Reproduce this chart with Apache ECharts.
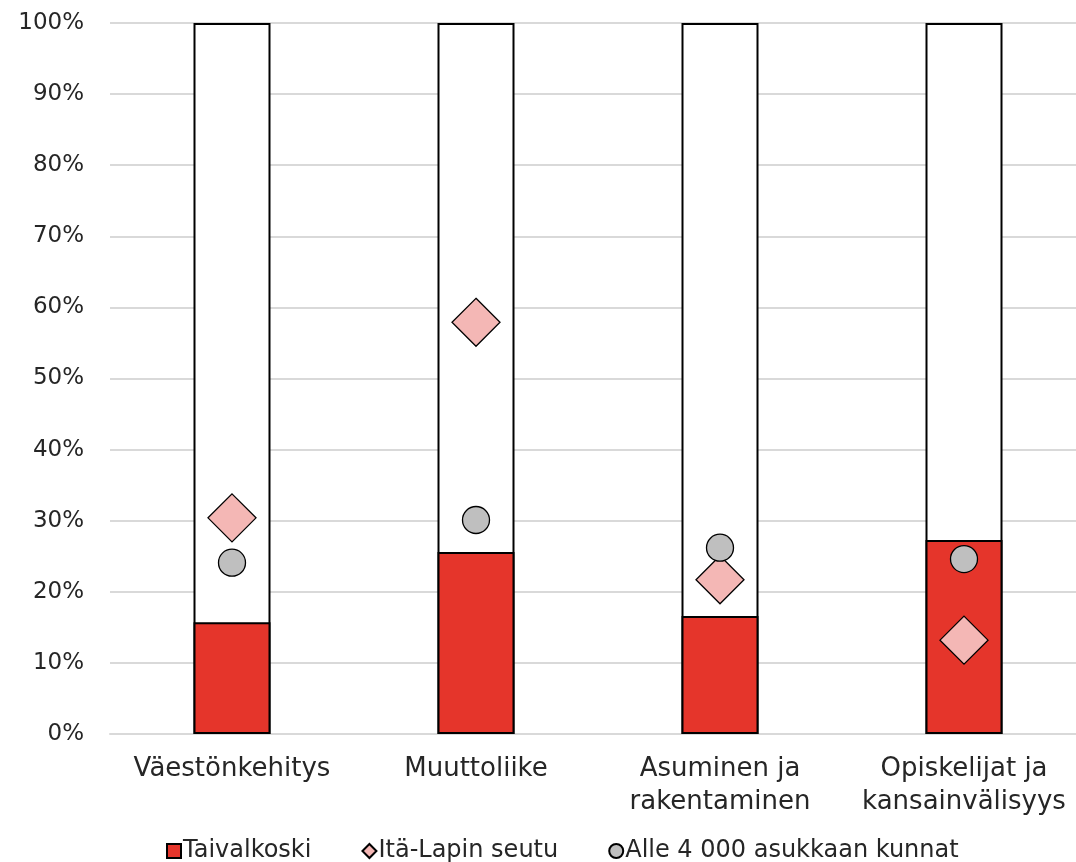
<!DOCTYPE html>
<html>
<head>
<meta charset="utf-8">
<script src="https://cdn.jsdelivr.net/npm/echarts@6/dist/echarts.min.js"></script>
<style>
  html, body { margin: 0; padding: 0; background: #fff; }
  #chart { width: 1076px; height: 862px; }
</style>
</head>
<body>
<div id="chart"></div>
<script>
// arvot kuvasta luettuna (%)
var categories = ["Väestönkehitys", "Muuttoliike", "Asuminen ja\nrakentaminen", "Opiskelijat ja\nkansainvälisyys"];
var taivalkoski = [15.7, 25.6, 16.6, 27.3];
var itaLappi = [30.4, 57.9, 21.7, 13.2];
var alle4000 = [24.1, 30.1, 26.2, 24.6];

var font = "DejaVu Sans";
var full = categories.map(function () { return 100; });

var myChart = echarts.init(document.getElementById("chart"));
myChart.setOption({
  animation: false,
  textStyle: { fontFamily: font, color: "#262626" },
  grid: { left: 110, top: 23, width: 976, bottom: 128, outerBoundsMode: "none", containLabel: false },
  legend: {
    data: [
      { name: "Taivalkoski", icon: "rect" },
      { name: "Itä-Lapin seutu", icon: "diamond" },
      { name: "Alle 4 000 asukkaan kunnat", icon: "circle" }
    ],
    left: 161,
    bottom: -6,
    itemWidth: 14,
    itemHeight: 14,
    itemGap: 50,
    textStyle: { fontFamily: font, fontSize: 24, color: "#262626", padding: [0, 0, 0, -3] }
  },
  xAxis: {
    type: "category",
    data: categories,
    axisLine: { show: true, lineStyle: { color: "#D9D9D9", width: 2 } },
    axisTick: { show: false },
    axisLabel: { fontSize: 26, color: "#262626", lineHeight: 33, margin: 19, interval: 0 }
  },
  yAxis: {
    type: "value",
    min: 0,
    max: 100,
    interval: 10,
    axisLine: { show: false },
    axisTick: { show: false },
    axisLabel: { formatter: "{value}%", fontSize: 23, color: "#262626", margin: 26 },
    splitLine: { lineStyle: { color: "#D9D9D9", width: 2 } }
  },
  series: [
    {
      name: "muut",
      type: "bar",
      barWidth: 77,
      barGap: "-100%",
      data: full,
      z: 1,
      itemStyle: { color: "#FFFFFF", borderColor: "#000", borderWidth: 2 }
    },
    {
      name: "Taivalkoski",
      type: "bar",
      barWidth: 77,
      barGap: "-100%",
      data: taivalkoski,
      z: 2,
      itemStyle: { color: "#E5352B", borderColor: "#000", borderWidth: 2 }
    },
    {
      name: "Itä-Lapin seutu",
      type: "scatter",
      symbol: "diamond",
      symbolSize: 48,
      data: itaLappi,
      z: 5,
      itemStyle: { color: "#F4B7B5", borderColor: "#000", borderWidth: 1.3, opacity: 1 }
    },
    {
      name: "Alle 4 000 asukkaan kunnat",
      type: "scatter",
      symbol: "circle",
      symbolSize: 27,
      data: alle4000,
      z: 5,
      itemStyle: { color: "#BFBFBF", borderColor: "#000", borderWidth: 1.3, opacity: 1 }
    }
  ]
});
</script>
</body>
</html>
